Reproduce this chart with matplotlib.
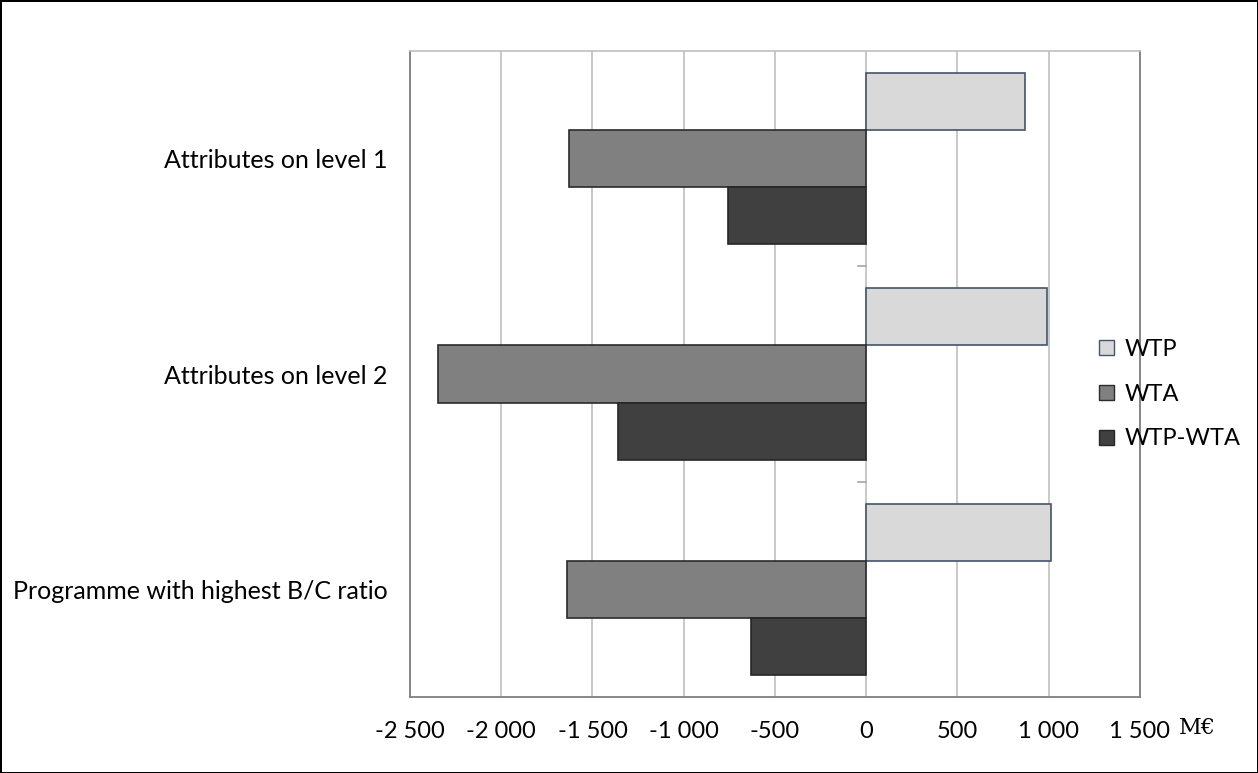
import matplotlib.pyplot as plt
from matplotlib.ticker import FuncFormatter, MultipleLocator
from matplotlib.patches import Patch
import numpy as np

categories = ["Attributes on level 1", "Attributes on level 2", "Programme with highest B/C ratio"]
wtp = [870, 990, 1010]
wta = [-1630, -2345, -1640]
wtp_minus_wta = [-760, -1360, -630]

series_names = ["WTP", "WTA", "WTP-WTA"]
fills = ["#D9D9D9", "#808080", "#404040"]
edges = ["#44546A", "#2B2B2B", "#262626"]

plt.rcParams['font.family'] = ['Lato', 'DejaVu Sans']

fig = plt.figure(figsize=(12.58, 7.73), dpi=100)
fig.patch.set_edgecolor('black')
fig.patch.set_linewidth(2)
ax = fig.add_axes([0.3259, 0.0983, 0.5803, 0.8357])

y = np.arange(len(categories))
h = 0.265
for i, (vals, fc, ec, name) in enumerate(zip([wtp, wta, wtp_minus_wta], fills, edges, series_names)):
    ax.barh(y + (i - 1) * h, vals, height=h, color=fc, edgecolor=ec, linewidth=1.2,
            label=name, zorder=3)

ax.set_xlim(-2500, 1500)
ax.set_ylim(2.5, -0.5)
ax.xaxis.set_major_locator(MultipleLocator(500))
ax.xaxis.set_major_formatter(FuncFormatter(lambda v, p: f"{int(v):,}".replace(",", " ")))
ax.grid(axis='x', color='#BFBFBF', linewidth=1.2, zorder=0)
ax.tick_params(axis='x', length=0, pad=17, labelsize=17, colors='black')

ax.set_yticks(y)
ax.set_yticklabels(categories, fontsize=18)
ax.tick_params(axis='y', length=0, pad=16)

# small category separators on the zero line
for b in [0.5, 1.5]:
    ax.plot([-45, 0], [b, b], color='#A6A6A6', linewidth=1.2, zorder=2)

for side in ['left', 'bottom', 'right']:
    ax.spines[side].set_color('#7F7F7F')
    ax.spines[side].set_linewidth(1.3)
ax.spines['top'].set_color('#BFBFBF')
ax.spines['top'].set_linewidth(1.2)

handles = [Patch(facecolor=fc, edgecolor=ec, label=n) for fc, ec, n in zip(fills, edges, series_names)]
fig.legend(handles=handles, loc='center left', bbox_to_anchor=(0.857, 0.49), frameon=False,
           fontsize=17, handlelength=0.6, handleheight=0.6, handletextpad=0.45, labelspacing=1.0)

fig.text(0.937, 0.058, "M€", family='DejaVu Serif', fontsize=16, ha='left', va='center')

fig.savefig("out.png", dpi=100)
